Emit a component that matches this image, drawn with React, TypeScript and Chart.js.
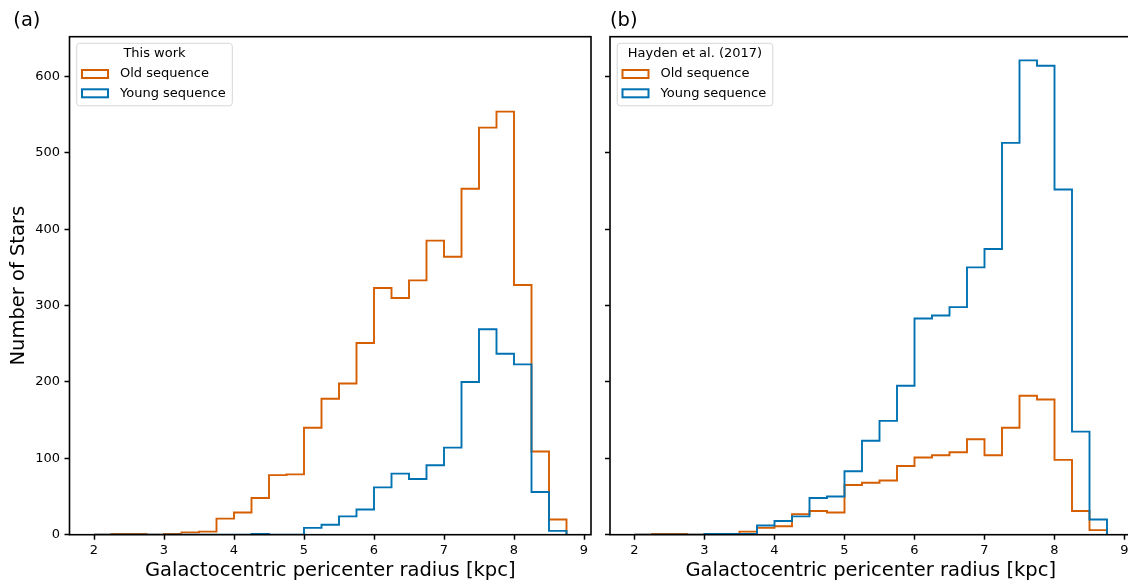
import React, { useEffect, useRef } from 'react';
import { Chart, registerables } from 'chart.js';

Chart.register(...registerables);

// ---- data ----
const binEdges = [2.0, 2.25, 2.5, 2.75, 3.0, 3.25, 3.5, 3.75, 4.0, 4.25, 4.5, 4.75, 5.0, 5.25, 5.5, 5.75, 6.0, 6.25, 6.5, 6.75, 7.0, 7.25, 7.5, 7.75, 8.0, 8.25, 8.5, 8.75];
const xTicks = [2, 3, 4, 5, 6, 7, 8, 9];
const yTicks = [0, 100, 200, 300, 400, 500, 600];

const thisWorkOld = [0, 1, 1, 0, 1, 3, 4, 21, 29, 48, 78, 79, 140, 178, 198, 251, 323, 310, 333, 385, 364, 453, 533, 554, 327, 109, 20];
const thisWorkYoung = [0, 0, 0, 0, 0, 0, 0, 0, 0, 1, 0, 0, 9, 13, 24, 33, 62, 80, 73, 91, 114, 200, 269, 237, 223, 56, 5];
const haydenOld = [0, 1, 1, 0, 1, 1, 4, 9, 11, 27, 31, 29, 65, 68, 71, 90, 101, 104, 108, 125, 104, 140, 182, 177, 98, 31, 6];
const haydenYoung = [0, 0, 0, 0, 1, 1, 1, 12, 18, 24, 48, 50, 83, 123, 149, 195, 283, 287, 298, 350, 374, 513, 621, 614, 452, 135, 20];

const seriesLabels = ['Old sequence', 'Young sequence'];
const legendTitles = ['This work', 'Hayden et al. (2017)'];
const panelLabels = ['(a)', '(b)'];
const xTitle = 'Galactocentric pericenter radius [kpc]';
const yTitle = 'Number of Stars';

// ---- style ----
const ORANGE = '#D55E00';
const BLUE = '#0072B2';
const FAMILY = 'DejaVu Sans';
const X_MIN = 1.65;
const X_MAX = 9.1;
const Y_MAX = 1.05 * Math.max(...thisWorkOld, ...thisWorkYoung, ...haydenOld, ...haydenYoung);

function stepPoints(edges: number[], counts: number[]) {
  const pts: { x: number; y: number }[] = [{ x: edges[0], y: 0 }];
  counts.forEach((c, i) => {
    pts.push({ x: edges[i], y: c });
    pts.push({ x: edges[i + 1], y: c });
  });
  pts.push({ x: edges[edges.length - 1], y: 0 });
  return pts;
}

const framePlugin = {
  id: 'frame',
  afterDatasetsDraw(chart: any) {
    const { ctx, chartArea } = chart;
    ctx.save();
    ctx.strokeStyle = '#000';
    ctx.lineWidth = 1.6;
    ctx.strokeRect(chartArea.left, chartArea.top, chartArea.right - chartArea.left, chartArea.bottom - chartArea.top);
    ctx.restore();
  },
};

const legendPlugin = {
  id: 'histLegend',
  afterDraw(chart: any, _args: any, opts: any) {
    const { ctx, chartArea } = chart;
    ctx.save();
    // panel label
    ctx.fillStyle = '#000';
    ctx.font = `19.5px "${FAMILY}"`;
    ctx.textBaseline = 'alphabetic';
    ctx.textAlign = 'left';
    ctx.fillText(opts.panel, opts.panelX, 25.5);

    // legend box
    const bx = chartArea.left + 7.2;
    const by = 43.3;
    const bw = 155.6;
    const bh = 62.5;
    ctx.beginPath();
    ctx.roundRect(bx, by, bw, bh, 3);
    ctx.fillStyle = 'rgba(255,255,255,0.8)';
    ctx.fill();
    ctx.strokeStyle = '#d6d6d6';
    ctx.lineWidth = 1;
    ctx.stroke();

    ctx.fillStyle = '#000';
    ctx.font = `13px "${FAMILY}"`;
    ctx.textBaseline = 'middle';
    ctx.textAlign = 'center';
    ctx.fillText(opts.title, bx + bw / 2, 54);

    const rows = [74, 93.3];
    const colors = [ORANGE, BLUE];
    rows.forEach((ry, i) => {
      ctx.strokeStyle = colors[i];
      ctx.lineWidth = 2;
      ctx.strokeRect(bx + 5.3, ry - 4, 26, 8);
      ctx.fillStyle = '#000';
      ctx.textAlign = 'left';
      ctx.fillText(seriesLabels[i], bx + 43.3, ry);
    });
    ctx.restore();
  },
};

type PanelCfg = {
  old: number[];
  young: number[];
  title: string;
  panel: string;
  panelX: number;
  yAxisWidth: number;
  padRight: number;
  showYLabels: boolean;
};

function makeConfig(p: PanelCfg): any {
  const tickFont = { family: FAMILY, size: 13 };
  const titleFont = { family: FAMILY, size: 19.5 };
  return {
    type: 'line',
    data: {
      datasets: [
        {
          label: seriesLabels[0],
          data: stepPoints(binEdges, p.old),
          borderColor: ORANGE,
          borderWidth: 1.9,
          pointRadius: 0,
          fill: false,
          tension: 0,
          order: 1,
          borderJoinStyle: 'miter',
        },
        {
          label: seriesLabels[1],
          data: stepPoints(binEdges, p.young),
          borderColor: BLUE,
          borderWidth: 1.9,
          pointRadius: 0,
          fill: false,
          tension: 0,
          order: 0,
          borderJoinStyle: 'miter',
        },
      ],
    },
    options: {
      responsive: false,
      animation: false,
      devicePixelRatio: 1,
      events: [],
      layout: { padding: { left: 0, right: p.padRight, top: 36.7, bottom: 0 } },
      plugins: {
        legend: { display: false },
        tooltip: { enabled: false },
        title: { display: false },
        histLegend: { title: p.title, panel: p.panel, panelX: p.panelX },
      },
      scales: {
        x: {
          type: 'linear',
          min: X_MIN,
          max: X_MAX,
          bounds: 'data',
          afterBuildTicks: (s: any) => {
            s.ticks = xTicks.map((v) => ({ value: v }));
          },
          afterFit: (s: any) => {
            s.height = 585 - 534.7;
          },
          grid: { drawOnChartArea: false, drawTicks: true, tickLength: 5, tickColor: '#000', tickWidth: 1.5 },
          border: { display: false },
          ticks: { color: '#000', font: tickFont, padding: 3.5, maxRotation: 0, autoSkip: false },
          title: { display: true, text: xTitle, color: '#000', font: titleFont, padding: { top: 0, bottom: 2.3 } },
        },
        y: {
          type: 'linear',
          min: 0,
          max: Y_MAX,
          bounds: 'data',
          afterBuildTicks: (s: any) => {
            s.ticks = yTicks.map((v) => ({ value: v }));
          },
          afterFit: (s: any) => {
            s.width = p.yAxisWidth;
          },
          grid: { drawOnChartArea: false, drawTicks: true, tickLength: 5, tickColor: '#000', tickWidth: 1.5 },
          border: { display: false },
          ticks: { display: p.showYLabels, color: '#000', font: tickFont, padding: 4.5, autoSkip: false },
          title: { display: p.showYLabels, text: yTitle, color: '#000', font: titleFont, padding: { top: 7.3, bottom: 0 } },
        },
      },
    },
    plugins: [framePlugin, legendPlugin],
  };
}

function Panel({ left, width, cfg }: { left: number; width: number; cfg: PanelCfg }) {
  const ref = useRef<HTMLCanvasElement | null>(null);
  useEffect(() => {
    if (!ref.current) return;
    const chart = new Chart(ref.current, makeConfig(cfg));
    return () => chart.destroy();
  }, []);
  return (
    <canvas
      ref={ref}
      width={width}
      height={585}
      style={{ position: 'absolute', left, top: 0, width, height: 585, display: 'block' }}
    />
  );
}

export default function App() {
  const leftCfg: PanelCfg = {
    old: thisWorkOld,
    young: thisWorkYoung,
    title: legendTitles[0],
    panel: panelLabels[0],
    panelX: 13.3,
    yAxisWidth: 69.5,
    padRight: 9,
    showYLabels: true,
  };
  const rightCfg: PanelCfg = {
    old: haydenOld,
    young: haydenYoung,
    title: legendTitles[1],
    panel: panelLabels[1],
    panelX: 10,
    yAxisWidth: 10,
    padRight: 4.5,
    showYLabels: false,
  };
  return (
    <div
      style={{
        position: 'fixed',
        left: 0,
        top: 0,
        width: 1128,
        height: 585,
        overflow: 'hidden',
        background: '#fff',
      }}
    >
      <Panel left={0} width={600} cfg={leftCfg} />
      <Panel left={600} width={536} cfg={rightCfg} />
    </div>
  );
}
